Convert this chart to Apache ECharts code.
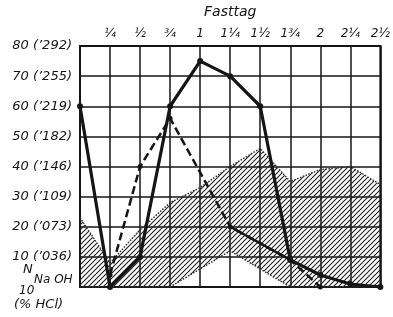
<!DOCTYPE html>
<html>
<head>
<meta charset="utf-8">
<style>
  html, body { margin: 0; padding: 0; background: #fff; }
  #chart { width: 393px; height: 317px; }
</style>
<script src="https://cdn.jsdelivr.net/npm/echarts@6/dist/echarts.min.js"></script>
</head>
<body>
<div id="chart"></div>
<script>
// x positions: quarter days (Fasttag), 0 .. 2 1/2
var quarterLabels = ['', '¼', '½', '¾', '1', '1¼', '1½', '1¾', '2', '2¼', '2½'];
var yTickLabels = ['', '10 (’036)', '20 (’073)', '30 (’109)', '40 (’146)',
  '50 (’182)', '60 (’219)', '70 (’255)', '80 (’292)'];

// thick solid curve
var solidValues = [60, 0, 10, 60, 75, 70, 60, 9, 4, 1, 0];
// dashed curve ('-' = no point there)
var dashedValues = ['-', 4, 40, 56, '-', 20, '-', 9, 0, '-', '-'];
// part of the second curve drawn as a full line
var branchValues = ['-', '-', '-', '-', '-', 20, '-', 9, '-', '-', '-'];
// hatched band, lower and upper edge
var bandLower = [0, 0, 0, 0, 6, 12, 6, 0, 0, 0, 0];
var bandUpper = [23, 8, 19, 28, 33, 40, 46, 35, 39, 40, 34];

(function () {
  var chart = echarts.init(document.getElementById('chart'));
  var ink = '#151515';
  var labelFont = {
    color: ink,
    fontFamily: 'DejaVu Sans',
    fontStyle: 'italic',
  };

  // diagonal hatching
  var hatch = document.createElement('canvas');
  hatch.width = 5;
  hatch.height = 5;
  var ctx = hatch.getContext('2d');
  ctx.strokeStyle = '#222';
  ctx.lineWidth = 1.1;
  ctx.beginPath();
  ctx.moveTo(-1, 6); ctx.lineTo(6, -1);
  ctx.moveTo(-1, 1); ctx.lineTo(1, -1);
  ctx.moveTo(4, 6); ctx.lineTo(6, 4);
  ctx.stroke();

  var bandSpan = bandUpper.map(function (v, i) {
    return v - bandLower[i];
  });

  var option = {
    backgroundColor: '#fff',
    animation: false,
    grid: {
      left: 80,
      right: 12,
      top: 43,
      bottom: 30,
      show: true,
      borderColor: ink,
      borderWidth: 2,
    },
    xAxis: {
      type: 'category',
      position: 'top',
      boundaryGap: false,
      data: quarterLabels,
      name: 'Fasttag',
      nameLocation: 'middle',
      nameGap: 27,
      nameTextStyle: Object.assign({ fontSize: 14 }, labelFont),
      axisLine: { lineStyle: { color: ink, width: 2 } },
      axisTick: { show: false },
      axisLabel: Object.assign({ fontSize: 12, margin: 6, interval: 0 }, labelFont),
      splitLine: { show: true, lineStyle: { color: ink, width: 1.5 } },
    },
    yAxis: {
      type: 'value',
      min: 0,
      max: 80,
      interval: 10,
      axisLine: { show: true, lineStyle: { color: ink, width: 2 } },
      axisTick: { show: false },
      axisLabel: Object.assign({
        fontSize: 13,
        margin: 8,
        formatter: function (v) {
          return yTickLabels[Math.round(v / 10)];
        },
      }, labelFont),
      splitLine: { show: true, lineStyle: { color: ink, width: 1.5 } },
    },
    graphic: [
      { type: 'text', left: 23, top: 263, style: Object.assign({ text: 'N', fontSize: 13 }, labelFont, { fill: ink }) },
      { type: 'text', left: 34, top: 274, style: Object.assign({ text: 'Na OH', fontSize: 12 }, labelFont, { fill: ink }) },
      { type: 'text', left: 19, top: 285, style: Object.assign({ text: '10', fontSize: 12 }, labelFont, { fill: ink }) },
      { type: 'text', left: 14, top: 298, style: Object.assign({ text: '(% HCl)', fontSize: 13 }, labelFont, { fill: ink }) },
    ],
    series: [
      {
        type: 'line',
        stack: 'band',
        data: bandLower,
        symbol: 'none',
        lineStyle: { color: '#333', width: 1.5, type: 'dotted' },
        z: 1,
      },
      {
        type: 'line',
        stack: 'band',
        data: bandSpan,
        symbol: 'none',
        lineStyle: { color: '#333', width: 1.5, type: 'dotted' },
        areaStyle: { color: { image: hatch, repeat: 'repeat' }, opacity: 1 },
        z: 1,
      },
      {
        type: 'line',
        data: dashedValues,
        connectNulls: true,
        symbol: 'circle',
        symbolSize: 5,
        itemStyle: { color: ink },
        lineStyle: { color: ink, width: 2.5, type: [8, 4] },
        z: 3,
      },
      {
        type: 'line',
        data: branchValues,
        connectNulls: true,
        symbol: 'none',
        lineStyle: { color: ink, width: 2.5 },
        z: 3,
      },
      {
        type: 'line',
        data: solidValues,
        symbol: 'circle',
        symbolSize: 6,
        itemStyle: { color: ink },
        lineStyle: { color: ink, width: 3.2 },
        z: 4,
      },
    ],
  };
  chart.setOption(option);
})();
</script>
</body>
</html>
